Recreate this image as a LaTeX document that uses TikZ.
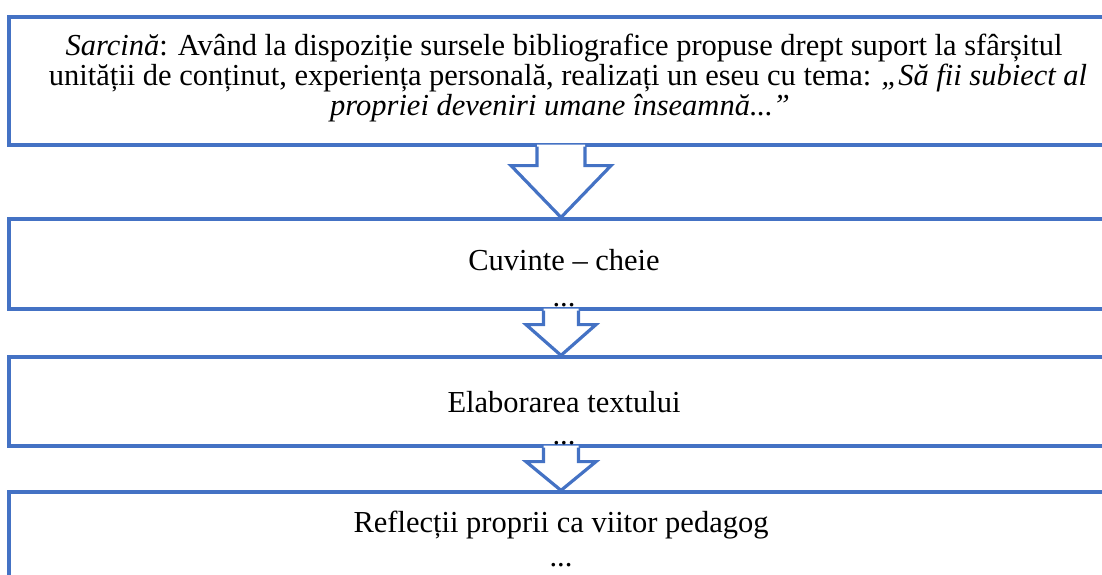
\documentclass[tikz,border=0pt]{standalone}
\usepackage{fontspec}
\setmainfont{Liberation Serif}
\usetikzlibrary{calc}
\definecolor{wordblue}{HTML}{4472C4}
\tikzset{
  boxframe/.style={draw=wordblue, line width=3.2pt, fill=none, inner sep=0pt, minimum width=1104pt},
  arrowline/.style={draw=wordblue, line width=3.2pt, line join=miter},
  txt/.style={anchor=base, inner sep=0pt, font=\fontsize{30.5}{30.5}\selectfont},
}
\newcommand\myblockarrow[5]{% from, to, headbase offset, shaft half width, head half width
  \fill[white] ($(#1)+(-#4,-2)$) -- ($(#1)+(-#4,#3)$) -- ($(#1)+(-#5,#3)$) -- (#2) -- ($(#1)+(#5,#3)$) -- ($(#1)+(#4,#3)$) -- ($(#1)+(#4,-2)$) -- cycle;
  \draw[arrowline] ($(#1)+(-#4,0)$) -- ($(#1)+(-#4,#3)$) -- ($(#1)+(-#5,#3)$) -- (#2) -- ($(#1)+(#5,#3)$) -- ($(#1)+(#4,#3)$) -- ($(#1)+(#4,0)$);
}
\begin{document}
\begin{tikzpicture}[x=1pt,y=-1pt]
\useasboundingbox (0,0) rectangle (1102,575);
\clip (0,0) rectangle (1102,575);
% boxes
\node[boxframe, minimum height=128pt] (box1) at (561,81) {};
\node[boxframe, minimum height=90pt] (box2) at (561,264) {};
\node[boxframe, minimum height=89pt] (box3) at (561,401.5) {};
\node[boxframe, minimum height=130pt] (box4) at (561,557) {};
% arrows
\myblockarrow{box1.south}{box2.north}{19}{24}{50}
\myblockarrow{box2.south}{box3.north}{14}{17.5}{35}
\myblockarrow{box3.south}{box4.north}{14}{17.5}{35}
% texts
\node[txt] (t1a) at (564,56) {\textit{Sarcină}: Având la dispoziție sursele bibliografice propuse drept suport la sfârșitul};
\node[txt] (t1b) at (568,86) {unității de conținut, experiența personală, realizați un eseu cu tema: \textit{,,Să fii subiect al}};
\node[txt] (t1c) at (560,116) {\textit{propriei deveniri umane înseamnă...”}};
\node[txt] (t2) at (564,270) {Cuvinte – cheie};
\node[txt] (t2d) at (564,306) {...};
\node[txt] (t3) at (564,412) {Elaborarea textului};
\node[txt] (t3d) at (564,444) {...};
\node[txt] (t4) at (561,532) {Reflecții proprii ca viitor pedagog};
\node[txt] (t4d) at (561,566) {...};
\end{tikzpicture}
\end{document}
